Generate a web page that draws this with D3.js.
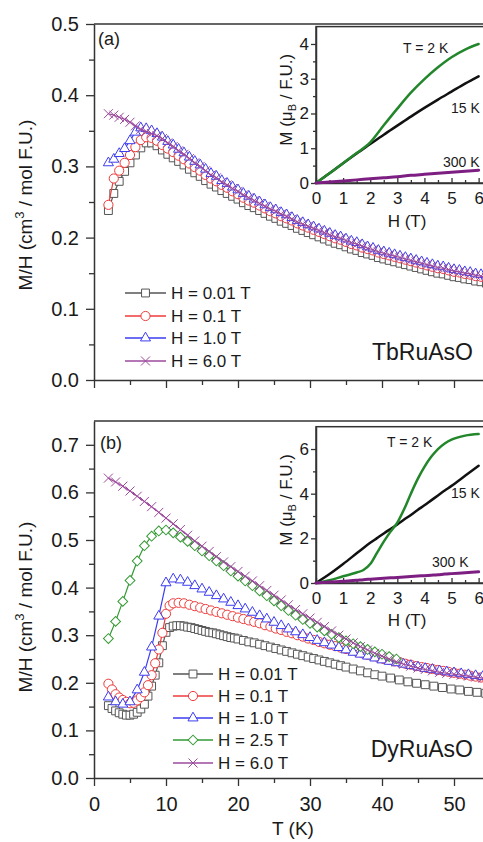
<!DOCTYPE html>
<html>
<head>
<meta charset="utf-8">
<script src="https://cdn.jsdelivr.net/npm/d3@7"></script>
<style>
  body { margin: 0; background: #fff; }
  text { font-family: "Liberation Sans", Arial, sans-serif; }
</style>
</head>
<body>
<svg id="chart" width="483" height="842"></svg>
<script>
// ---- panel (a): TbRuAsO, M/H vs T ----
const TA = [2,2.75,3.5,4.25,5,5.75,6.5,7.25,8,8.75,9.5,10.25,11,11.75,12.5,13.25,14,14.75,15.5,16.25,17,17.75,18.5,19.25,20,20.75,21.5,22.25,23,23.75,24.5,25.25,26,26.75,27.5,28.25,29,29.75,30.5,31.25,32,32.75,33.5,34.25,35,35.75,36.5,37.25,38,38.75,39.5,40.25,41,41.75,42.5,43.25,44,44.75,45.5,46.25,47,47.75,48.5,49.25,50,50.75,51.5,52.25,53,53.75,54.5];
const A_H001 = [0.238,0.262,0.279,0.293,0.305,0.316,0.326,0.333,0.333,0.329,0.323,0.317,0.312,0.307,0.302,0.296,0.291,0.286,0.280,0.275,0.271,0.266,0.262,0.258,0.254,0.249,0.245,0.242,0.238,0.234,0.230,0.227,0.223,0.220,0.217,0.213,0.210,0.207,0.204,0.201,0.198,0.195,0.192,0.190,0.187,0.184,0.182,0.179,0.177,0.175,0.172,0.170,0.168,0.166,0.164,0.162,0.160,0.158,0.156,0.154,0.152,0.150,0.149,0.147,0.145,0.144,0.142,0.141,0.139,0.138,0.136];
const A_H01 = [0.246,0.283,0.294,0.305,0.316,0.327,0.337,0.341,0.340,0.336,0.330,0.325,0.320,0.315,0.310,0.304,0.299,0.294,0.288,0.283,0.279,0.274,0.270,0.265,0.261,0.256,0.252,0.249,0.245,0.241,0.237,0.234,0.230,0.227,0.224,0.220,0.217,0.214,0.211,0.208,0.205,0.202,0.199,0.197,0.194,0.191,0.189,0.186,0.184,0.182,0.179,0.177,0.175,0.173,0.171,0.169,0.167,0.165,0.163,0.161,0.159,0.157,0.156,0.154,0.152,0.151,0.149,0.148,0.146,0.145,0.143];
const A_H1 = [0.305,0.310,0.318,0.325,0.336,0.348,0.354,0.353,0.350,0.346,0.341,0.335,0.330,0.324,0.319,0.313,0.307,0.302,0.296,0.290,0.286,0.280,0.276,0.271,0.267,0.262,0.258,0.254,0.250,0.246,0.242,0.239,0.235,0.232,0.228,0.224,0.221,0.218,0.215,0.212,0.209,0.206,0.203,0.201,0.198,0.195,0.193,0.190,0.187,0.185,0.182,0.180,0.178,0.176,0.174,0.172,0.170,0.168,0.166,0.164,0.162,0.160,0.159,0.157,0.155,0.154,0.152,0.151,0.149,0.148,0.146];
const A_H6 = [0.374,0.372,0.369,0.366,0.362,0.357,0.352,0.349,0.346,0.343,0.339,0.333,0.328,0.322,0.317,0.311,0.305,0.300,0.294,0.288,0.284,0.278,0.274,0.269,0.265,0.260,0.256,0.252,0.248,0.244,0.240,0.237,0.233,0.230,0.226,0.222,0.219,0.216,0.213,0.210,0.207,0.204,0.201,0.199,0.196,0.193,0.191,0.188,0.185,0.183,0.180,0.178,0.176,0.174,0.172,0.170,0.168,0.166,0.164,0.162,0.160,0.158,0.157,0.155,0.153,0.152,0.150,0.149,0.147,0.146,0.144];

// ---- panel (b): DyRuAsO ----
const TB_SQ = [2,2.5,3,3.5,4,4.5,5,5.5,6,6.5,7,7.5,8,8.5,9,9.5,10,10.5,11,11.5,12,12.5,13,13.5,14,14.5,15,15.5,16,16.5,17,17.5,18,18.5,19,19.5,20,20.75,21.5,22.25,23,23.75,24.5,25.25,26,26.75,27.5,28.25,29,29.75,30.5,31.25,32,32.75,33.5,34.25,35,36,37,38,39,40,41.2,42.4,43.6,44.8,46,47.2,48.4,49.6,50.8,52,53.2,54.4];
const B_H001 = [0.152,0.146,0.141,0.137,0.134,0.132,0.132,0.134,0.138,0.145,0.155,0.172,0.193,0.216,0.242,0.278,0.306,0.316,0.319,0.320,0.320,0.319,0.317,0.316,0.314,0.312,0.310,0.308,0.306,0.305,0.303,0.301,0.299,0.297,0.295,0.294,0.292,0.289,0.286,0.284,0.281,0.278,0.275,0.272,0.269,0.266,0.263,0.260,0.257,0.254,0.251,0.248,0.245,0.242,0.239,0.236,0.233,0.229,0.225,0.221,0.217,0.214,0.210,0.206,0.202,0.199,0.196,0.193,0.190,0.187,0.185,0.182,0.180,0.178];
const TB_CI = [2,2.5,3,3.5,4,4.5,5,5.5,6,6.5,7,7.5,8,8.5,9,9.5,10,10.5,11,11.75,12.5,13.25,14,14.75,15.5,16.25,17,17.75,18.5,19.25,20,20.75,21.5,22.25,23,23.75,24.5,25.25,26,26.75,27.5,28.25,29,29.75,30.5,31.25,32,32.75,33.5,34.25,35,35.75,36.5,37.25,38,38.75,39.5,40.25,41,41.75,42.5,43.25,44,44.75,45.5,46.25,47,47.75,48.5,49.25,50,50.75,51.5,52.25,53,53.75,54.5];
const B_H01 = [0.198,0.186,0.176,0.169,0.164,0.160,0.157,0.158,0.163,0.170,0.180,0.195,0.216,0.241,0.270,0.305,0.345,0.362,0.367,0.368,0.367,0.364,0.361,0.358,0.355,0.352,0.349,0.346,0.343,0.340,0.337,0.334,0.331,0.328,0.325,0.321,0.318,0.314,0.311,0.307,0.304,0.300,0.297,0.293,0.290,0.286,0.283,0.280,0.277,0.274,0.271,0.268,0.265,0.262,0.259,0.256,0.253,0.250,0.248,0.245,0.243,0.240,0.238,0.235,0.233,0.231,0.229,0.227,0.225,0.223,0.221,0.219,0.217,0.215,0.213,0.211,0.209];
const TB_1K = [2,3,4,5,6,7,8,9,10,11,12,13,14,15,16,17,18,19,20,21,22,23,24,25,26,27,28,29,30,31,32,33,34,35,36,37,38,39,40,41,42,43,44,45,46,47,48,49,50,51,52,53,54];
const B_H1 = [0.170,0.160,0.155,0.160,0.185,0.222,0.275,0.340,0.410,0.418,0.416,0.411,0.404,0.397,0.390,0.383,0.376,0.369,0.362,0.355,0.348,0.341,0.334,0.327,0.320,0.313,0.307,0.301,0.295,0.289,0.284,0.279,0.274,0.269,0.264,0.260,0.256,0.252,0.248,0.245,0.242,0.239,0.236,0.233,0.230,0.228,0.225,0.223,0.221,0.219,0.217,0.215,0.213];
const B_H6 = [0.630,0.622,0.613,0.603,0.592,0.581,0.570,0.558,0.546,0.534,0.522,0.510,0.498,0.487,0.476,0.465,0.454,0.444,0.434,0.424,0.414,0.404,0.394,0.384,0.374,0.364,0.354,0.345,0.336,0.327,0.318,0.309,0.300,0.292,0.284,0.276,0.269,0.262,0.256,0.250,0.244,0.239,0.235,0.231,0.228,0.225,0.222,0.220,0.218,0.216,0.214,0.212,0.210];
const TB_DI = [2,3,4,5,6,7,8,9,10,11,12,13,14,15,16,17,18,19,20,21,22,23,24,25,26,27,28,29,30,31,32,33,34,35,36,37,38,39,40,41,42];
const B_H25 = [0.293,0.329,0.371,0.415,0.456,0.488,0.508,0.519,0.521,0.515,0.506,0.497,0.488,0.477,0.467,0.456,0.446,0.435,0.424,0.414,0.404,0.393,0.383,0.372,0.362,0.352,0.342,0.333,0.325,0.317,0.309,0.302,0.295,0.288,0.282,0.276,0.270,0.265,0.260,0.255,0.250];

// ---- insets: M vs H ----
const INS_A_H = [0,0.5,1,1.5,2,2.5,3,3.5,4,4.5,5,5.5,6];
const INS_A_2K = [0,0.28,0.57,0.86,1.17,1.66,2.14,2.60,2.99,3.33,3.62,3.84,4.00];
const INS_A_15K = [0,0.28,0.57,0.85,1.12,1.39,1.65,1.91,2.16,2.40,2.63,2.86,3.07];
const INS_A_300K = [0,0.03,0.06,0.09,0.12,0.15,0.18,0.22,0.25,0.28,0.31,0.34,0.37];
const INS_B_H = [0,0.5,1,1.5,1.75,2,2.25,2.5,2.75,3,3.25,3.5,3.75,4,4.25,4.5,4.75,5,5.5,6];
const INS_B_2K = [0,0.12,0.30,0.47,0.58,0.85,1.35,1.85,2.30,2.70,3.30,4.00,4.65,5.20,5.65,6.00,6.25,6.42,6.60,6.67];
const INS_B_15K = [0,0.40,0.85,1.33,1.57,1.80,2.01,2.22,2.42,2.62,2.84,3.05,3.27,3.48,3.70,3.92,4.14,4.35,4.80,5.25];
const INS_B_300K = [0,0.04,0.08,0.12,0.15,0.17,0.19,0.21,0.23,0.25,0.27,0.29,0.31,0.33,0.35,0.37,0.40,0.42,0.46,0.50];

const LEG_A = ['H = 0.01 T', 'H = 0.1 T', 'H = 1.0 T', 'H = 6.0 T'];
const LEG_B = ['H = 0.01 T', 'H = 0.1 T', 'H = 1.0 T', 'H = 2.5 T', 'H = 6.0 T'];
const X_MAJOR = [0, 10, 20, 30, 40, 50];
const X_MINOR = [5, 15, 25, 35, 45, 55];
const YA_MAJOR = [0, 0.1, 0.2, 0.3, 0.4, 0.5];
const YA_MINOR = [0.05, 0.15, 0.25, 0.35, 0.45];
const YB_MAJOR = [0, 0.1, 0.2, 0.3, 0.4, 0.5, 0.6, 0.7];
const YB_MINOR = [0.05, 0.15, 0.25, 0.35, 0.45, 0.55, 0.65];
const H_MAJOR = [0, 1, 2, 3, 4, 5, 6];
const H_MINOR = [0.5, 1.5, 2.5, 3.5, 4.5, 5.5];

const AX = '#333';
const TXT = '#1a1a1a';
const C = { sq: '#555555', ci: '#ee3b3b', tr: '#3c3cf0', di: '#339933', cr: '#9c4a9c' };

const svg = d3.select('#chart');

const sym = {
  square: d3.symbol().type(d3.symbolSquare).size(62)(),
  circle: d3.symbol().type(d3.symbolCircle).size(66)(),
  triangle: d3.symbol().type(d3.symbolTriangle).size(44)(),
  diamond: d3.symbol().type(d3.symbolSquare).size(48)(),
  cross: 'M-4.5,-4.5L4.5,4.5M-4.5,4.5L4.5,-4.5'
};

function marker(sel, shape, color) {
  sel.attr('d', sym[shape])
    .attr('fill', shape === 'cross' ? 'none' : '#fff')
    .attr('stroke', color)
    .attr('stroke-width', 1);
}

function styleAxis(g, size) {
  g.select('.domain').attr('stroke', AX).attr('stroke-width', 1.5);
  g.selectAll('.tick line').attr('stroke', AX).attr('stroke-width', 1.3);
  g.selectAll('.tick text')
    .attr('fill', TXT)
    .style('font-family', '"Liberation Sans", Arial, sans-serif')
    .style('font-size', size + 'px');
}

const xT = d3.scaleLinear().domain([0, 55]).range([94, 490]);

function drawMain(y, yMajor, yMinor, showXLabels) {
  const g = svg.append('g');
  const [y0, y1] = y.range();

  // top frame line
  g.append('line')
    .attr('x1', xT(0)).attr('x2', xT(55))
    .attr('y1', y1).attr('y2', y1)
    .attr('stroke', AX).attr('stroke-width', 1.5);

  const ly = g.append('g').attr('transform', `translate(${xT(0)},0)`)
    .call(d3.axisLeft(y).tickValues(yMajor).tickSize(8).tickSizeOuter(0)
      .tickPadding(7).tickFormat(d3.format('.1f')));
  styleAxis(ly, 20);
  const lyMin = g.append('g').attr('transform', `translate(${xT(0)},0)`)
    .call(d3.axisLeft(y).tickValues(yMinor).tickSize(5).tickFormat(''));
  lyMin.select('.domain').remove();
  styleAxis(lyMin, 20);

  const bx = g.append('g').attr('transform', `translate(0,${y0})`)
    .call(d3.axisBottom(xT).tickValues(X_MAJOR).tickSize(8).tickSizeOuter(0)
      .tickPadding(11).tickFormat(showXLabels ? d3.format('d') : ''));
  styleAxis(bx, 20);
  const bxMin = g.append('g').attr('transform', `translate(0,${y0})`)
    .call(d3.axisBottom(xT).tickValues(X_MINOR).tickSize(5).tickFormat(''));
  bxMin.select('.domain').remove();
  styleAxis(bxMin, 20);
  return g;
}

function drawSeries(g, t, v, y, shape, color) {
  const pts = d3.zip(t, v);
  g.append('path').datum(pts)
    .attr('d', d3.line().x(d => xT(d[0])).y(d => y(d[1])))
    .attr('fill', 'none').attr('stroke', color).attr('stroke-width', 1.2);
  g.append('g').selectAll('path').data(pts).join('path')
    .attr('transform', d => `translate(${xT(d[0])},${y(d[1])})` + (shape === 'diamond' ? ' rotate(45)' : ''))
    .call(marker, shape, color);
}

function drawLegend(g, labels, shapes, colors, x1, x2, rows) {
  labels.forEach((lab, i) => {
    const yy = rows[i];
    g.append('line').attr('x1', x1).attr('x2', x2).attr('y1', yy).attr('y2', yy)
      .attr('stroke', colors[i]).attr('stroke-width', 1.5);
    g.append('path')
      .attr('transform', `translate(${(x1 + x2) / 2},${yy})` + (shapes[i] === 'diamond' ? ' rotate(45)' : ''))
      .call(marker, shapes[i], colors[i]);
    g.append('text').attr('x', x2 + 5).attr('y', yy + 6)
      .attr('fill', TXT).style('font-size', '17px').text(lab);
  });
}

function yLabel(cx, cy) {
  const t = svg.append('text')
    .attr('transform', `translate(${cx},${cy}) rotate(-90)`)
    .attr('text-anchor', 'middle').attr('fill', TXT).style('font-size', '19px');
  t.append('tspan').text('M/H (cm');
  t.append('tspan').attr('dy', -8).style('font-size', '13px').text('3');
  t.append('tspan').attr('dy', 8).text(' / mol F.U.)');
}

function drawInset(top, yMax, yMajor, yMinor, curves, hLabelY, notes) {
  const hx = d3.scaleLinear().domain([0, 6.25]).range([316, 485.4]);
  const bottom = top === 'a' ? 183 : 583;
  const topPx = top === 'a' ? 26.6 : 426.7;
  const iy = d3.scaleLinear().domain([0, yMax]).range([bottom, topPx]);
  const g = svg.append('g');
  g.append('rect').attr('x', 316).attr('y', topPx).attr('width', 200).attr('height', bottom - topPx)
    .attr('fill', '#fff').attr('stroke', AX).attr('stroke-width', 1.5);

  const ax = g.append('g').attr('transform', `translate(316,0)`)
    .call(d3.axisLeft(iy).tickValues(yMajor).tickSize(5).tickSizeOuter(0).tickPadding(2).tickFormat(d3.format('d')));
  styleAxis(ax, 17);
  const axm = g.append('g').attr('transform', `translate(316,0)`)
    .call(d3.axisLeft(iy).tickValues(yMinor).tickSize(3).tickFormat(''));
  axm.select('.domain').remove();
  styleAxis(axm, 17);

  const bx = g.append('g').attr('transform', `translate(0,${bottom})`)
    .call(d3.axisBottom(hx).tickValues(H_MAJOR).tickSizeInner(-5).tickSizeOuter(0).tickPadding(9).tickFormat(d3.format('d')));
  styleAxis(bx, 17);
  const bxm = g.append('g').attr('transform', `translate(0,${bottom})`)
    .call(d3.axisBottom(hx).tickValues(H_MINOR).tickSizeInner(-3).tickSizeOuter(0).tickFormat(''));
  bxm.select('.domain').remove();
  styleAxis(bxm, 17);

  curves.forEach(c => {
    g.append('path').datum(d3.zip(c.h, c.m))
      .attr('d', d3.line().curve(d3.curveMonotoneX).x(d => hx(d[0])).y(d => iy(d[1])))
      .attr('fill', 'none').attr('stroke', c.color).attr('stroke-width', c.w)
      .attr('stroke-linecap', 'round');
  });

  g.append('text').attr('x', 407).attr('y', hLabelY).attr('text-anchor', 'middle')
    .attr('fill', TXT).style('font-size', '17px').text('H (T)');

  const cy = (bottom + topPx) / 2 - 5;
  const t = g.append('text').attr('transform', `translate(292,${cy}) rotate(-90)`)
    .attr('text-anchor', 'middle').attr('fill', TXT).style('font-size', '17px');
  t.append('tspan').text('M (\u03bc');
  t.append('tspan').attr('dy', 4).style('font-size', '11px').text('B');
  t.append('tspan').attr('dy', -4).text(' / F.U.)');

  notes.forEach(n => {
    g.append('text').attr('x', n[0]).attr('y', n[1]).attr('fill', TXT)
      .style('font-size', '14px').text(n[2]);
  });
}

// ---------- panel (a) ----------
const yA = d3.scaleLinear().domain([0, 0.5]).range([380, 24]);
const gA = drawMain(yA, YA_MAJOR, YA_MINOR, false);
drawSeries(gA, TA, A_H001, yA, 'square', C.sq);
drawSeries(gA, TA, A_H01, yA, 'circle', C.ci);
drawSeries(gA, TA, A_H1, yA, 'triangle', C.tr);
drawSeries(gA, TA, A_H6, yA, 'cross', C.cr);
drawLegend(gA, LEG_A, ['square', 'circle', 'triangle', 'cross'], [C.sq, C.ci, C.tr, C.cr],
  125, 166, [293, 316, 338, 361]);
gA.append('text').attr('x', 98).attr('y', 45).attr('fill', TXT).style('font-size', '18px').text('(a)');
gA.append('text').attr('x', 473).attr('y', 360).attr('text-anchor', 'end').attr('fill', TXT)
  .style('font-size', '23px').text('TbRuAsO');
yLabel(32, 205);

drawInset('a', 4.5, [0, 1, 2, 3, 4], [0.5, 1.5, 2.5, 3.5], [
  { h: INS_A_H, m: INS_A_15K, color: '#111', w: 2.5 },
  { h: INS_A_H, m: INS_A_2K, color: '#22862a', w: 2.5 },
  { h: INS_A_H, m: INS_A_300K, color: '#7d1f82', w: 3 }
], 227, [[403, 53, 'T = 2 K'], [451, 113, '15 K'], [443, 167, '300 K']]);

// ---------- panel (b) ----------
const yB = d3.scaleLinear().domain([0, 0.75]).range([778, 421]);
const gB = drawMain(yB, YB_MAJOR, YB_MINOR, true);
drawSeries(gB, TB_SQ, B_H001, yB, 'square', C.sq);
drawSeries(gB, TB_CI, B_H01, yB, 'circle', C.ci);
drawSeries(gB, TB_1K, B_H1, yB, 'triangle', C.tr);
drawSeries(gB, TB_DI, B_H25, yB, 'diamond', C.di);
drawSeries(gB, TB_1K, B_H6, yB, 'cross', C.cr);
drawLegend(gB, LEG_B, ['square', 'circle', 'triangle', 'diamond', 'cross'], [C.sq, C.ci, C.tr, C.di, C.cr],
  173, 213, [674, 696, 718, 740, 763]);
gB.append('text').attr('x', 100).attr('y', 449).attr('fill', TXT).style('font-size', '18px').text('(b)');
gB.append('text').attr('x', 473).attr('y', 757).attr('text-anchor', 'end').attr('fill', TXT)
  .style('font-size', '23px').text('DyRuAsO');
yLabel(32, 607);
svg.append('text').attr('x', 293).attr('y', 835).attr('text-anchor', 'middle').attr('fill', TXT)
  .style('font-size', '19px').text('T (K)');

drawInset('b', 7, [0, 2, 4, 6], [1, 3, 5], [
  { h: INS_B_H, m: INS_B_15K, color: '#111', w: 2.5 },
  { h: INS_B_H, m: INS_B_2K, color: '#22862a', w: 2.5 },
  { h: INS_B_H, m: INS_B_300K, color: '#7d1f82', w: 3 }
], 626, [[387, 447, 'T = 2 K'], [451, 498, '15 K'], [432, 567, '300 K']]);
</script>
</body>
</html>
